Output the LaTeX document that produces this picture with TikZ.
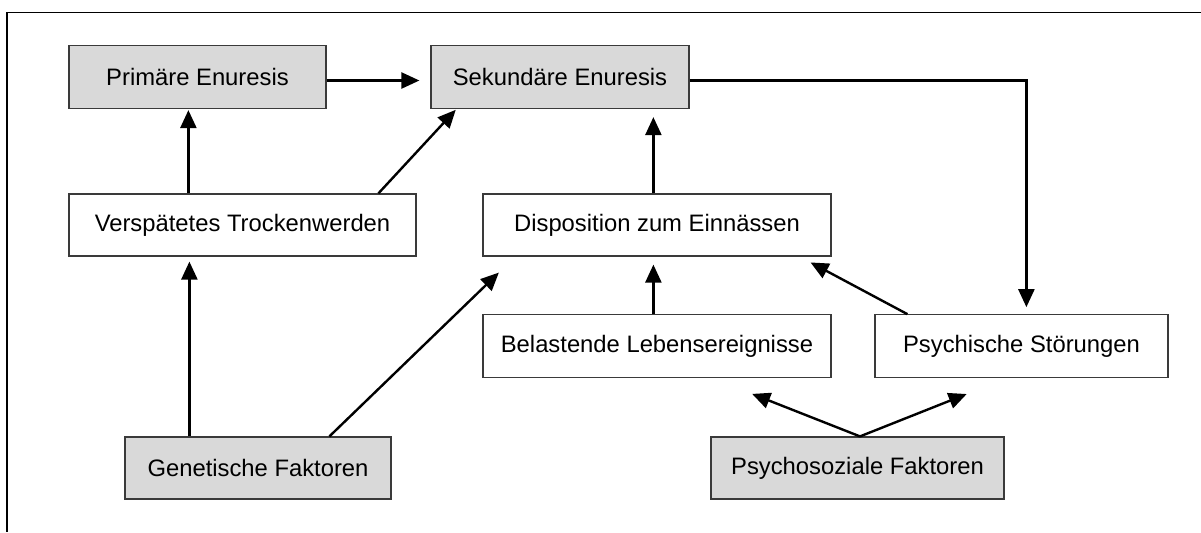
\documentclass[tikz,border=0pt]{standalone}
\usepackage{fontspec}
\setmainfont{Liberation Sans}
\usetikzlibrary{calc, positioning}
\usetikzlibrary{arrows.meta}

\definecolor{boxgray}{HTML}{D9D9D9}
\definecolor{edgegray}{HTML}{3A3A3A}

\tikzset{
  box/.style={draw=edgegray, line width=0.6pt, minimum height=31pt, inner sep=0pt,
    font=\fontsize{11.9}{14}\selectfont},
  graybox/.style={box, fill=boxgray},
  whitebox/.style={box, fill=white},
  arr/.style={-{Triangle[length=9pt, width=8pt]}, line width=1.2pt},
}

\begin{document}
\begin{tikzpicture}[x=0.5pt, y=-0.5pt]
\useasboundingbox (0,0) rectangle (1201,532);

% frame (cut off at right and bottom)
\draw[line width=0.75pt] (1201,12.5) -- (7,12.5) -- (7,532);

% boxes
\node[graybox, minimum width=128.5pt, minimum height=31.5pt] (prim) at (197.5,77) {Primäre Enuresis};
\node[graybox, minimum width=129pt, minimum height=31.5pt] (sek) at (560,77) {Sekundäre Enuresis};
\node[whitebox, minimum width=173.5pt] (versp) at (242.5,225) {Verspätetes Trockenwerden};
\node[whitebox, minimum width=174pt] (dispo) at (657,225) {Disposition zum Einnässen};
\node[whitebox, minimum width=174pt, minimum height=31.25pt] (belast) at (657,346) {Belastende Lebensereignisse};
\node[whitebox, minimum width=146.5pt, minimum height=31.25pt] (psych) at (1021.5,346) {Psychische Störungen};
\node[graybox, minimum width=133pt] (genet) at (258,468) {Genetische Faktoren};
\node[graybox, minimum width=146.5pt] (psysoz) at (857.5,468) {Psychosoziale Faktoren};

% anchor points on the box edges
\coordinate (v1) at ($(versp.north west)+(120,0)$);
\coordinate (v2) at ($(versp.north west)+(310,0)$);
\coordinate (g1) at ($(genet.north west)+(65,0)$);
\coordinate (g2) at ($(genet.north west)+(205,0)$);
\coordinate (s1) at ($(prim.east)+(0,3.5)$);
\coordinate (s2) at ($(sek.south west)+(26,0)$);
\coordinate (s3) at ($(sek.east)+(0,3.5)$);
\coordinate (d1) at ($(dispo.south west)+(33,0)$);
\coordinate (d2) at ($(dispo.north west)+(171,0)$);
\coordinate (d3) at ($(dispo.south east)+(-32,0)$);
\coordinate (b1) at ($(belast.north west)+(171,0)$);
\coordinate (b2) at ($(belast.south west)+(229,0)$);
\coordinate (p1) at ($(psych.north west)+(152,0)$);
\coordinate (p2) at ($(psych.north west)+(33,0)$);
\coordinate (p3) at ($(psych.south west)+(133,0)$);
\coordinate (z1) at ($(psysoz.north)+(2.5,0)$);

% arrows
\draw[arr, shorten >=5.5pt] (s1) -- (s1 -| sek.west);
\draw[arr, shorten >=3.5pt] (s3) -| (p1);
\draw[arr, shorten >=0.5pt] (v1) -- (v1 |- prim.south);
\draw[arr, shorten >=0.5pt] (v2) -- (s2);
\draw[arr, shorten >=2.5pt] (g1) -- (g1 |- versp.south);
\draw[arr, shorten >=11.5pt] (g2) -- (d1);
\draw[arr, shorten >=4pt] (d2) -- (d2 |- sek.south);
\draw[arr, shorten >=4pt] (b1) -- (b1 |- dispo.south);
\draw[arr, shorten >=6.2pt] (p2) -- (d3);
\draw[arr, shorten >=21.9pt] (z1) -- (b2);
\draw[arr, shorten >=21.9pt] (z1) -- (p3);
\end{tikzpicture}
\end{document}
